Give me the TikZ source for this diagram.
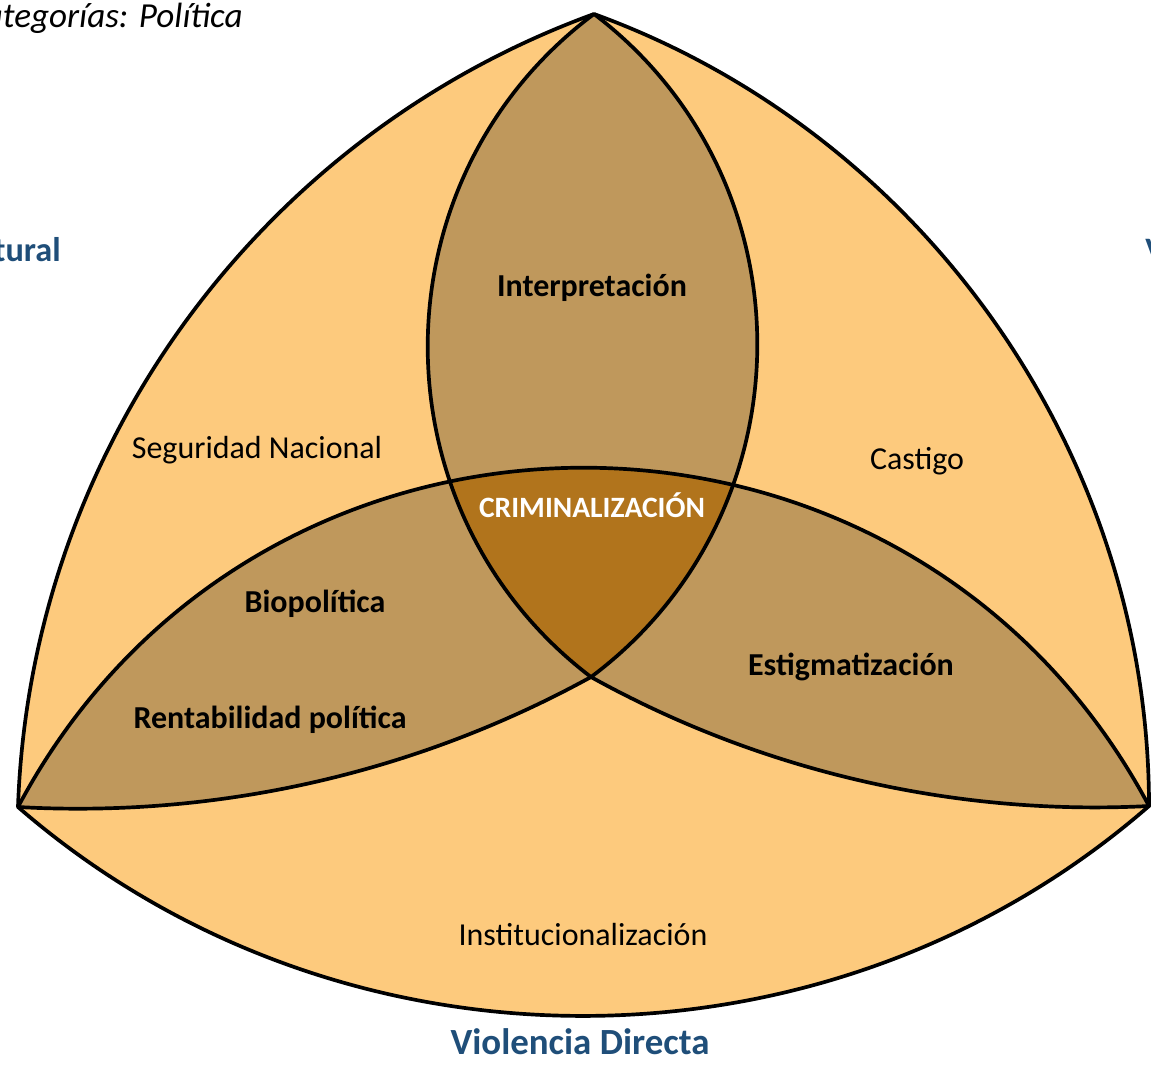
\documentclass[tikz,border=0pt]{standalone}
\usepackage{fontspec}
\setmainfont{Carlito}
\usetikzlibrary{positioning}
\definecolor{outerfill}{HTML}{FDCA7D}
\definecolor{lensfill}{HTML}{BF985C}
\definecolor{corefill}{HTML}{B1741C}
\definecolor{navy}{HTML}{1F4E79}

\begin{document}
\begin{tikzpicture}[x=0.02cm, y=0.02cm, line join=round,
  edge/.style={line width=2.1pt, black},
  lbl/.style={inner sep=0pt, font=\fontsize{18.2}{22}\selectfont},
  blbl/.style={inner sep=0pt, font=\fontsize{18.2}{22}\selectfont\bfseries},
  kind/.style={inner sep=0pt, text=navy, font=\fontsize{21}{25}\selectfont\bfseries},
  outl/.style={bend right=34, looseness=0.93},
  outb/.style={bend right=41, looseness=0.965},
  outr/.style={bend right=35, looseness=0.93},
  lensl/.style={bend right=53, looseness=1.06},
  upper/.style={bend left=62, looseness=1.16},
  lower/.style={bend left=16, looseness=0.87}
]
  \useasboundingbox (0,0) rectangle (1151,-1064);
  \clip (0,0) rectangle (1151,-1064);

  \coordinate (T) at (594,-14);
  \coordinate (L) at (18,-807);
  \coordinate (R) at (1149,-806);
  \coordinate (C) at (591,-677);

  % fills
  \fill[outerfill] (T) to[outl] (L) to[outb] (R) to[outr] (T) -- cycle;
  \fill[lensfill] (L) to[upper] (R) to[lower] (C) to[lower] (L) -- cycle;
  \fill[lensfill] (T) to[lensl] (C) to[lensl] (T) -- cycle;
  \begin{scope}
    \clip (T) to[lensl] (C) to[lensl] (T) -- cycle;
    \fill[corefill] (L) to[upper] (R) to[lower] (C) to[lower] (L) -- cycle;
  \end{scope}

  % outlines
  \draw[edge] (T) to[outl] (L) to[outb] (R) to[outr] (T) -- cycle;
  \draw[edge] (T) to[lensl] (C) to[lensl] (T);
  \draw[edge] (L) to[upper] (R) to[lower] (C) to[lower] (L);

  % labels
  \node[blbl] (interp) at (592,-288) {Interpretación};
  \node[lbl] (segur) at (257,-450) {Seguridad Nacional};
  \node[lbl] (cast) at (917,-461) {Castigo};
  \node[blbl, text=white, font=\fontsize{16.8}{20}\selectfont\bfseries] (crim) at (592,-505) {CRIMINALIZACIÓN};
  \node[blbl] (bio) at (315,-604) {Biopolítica};
  \node[blbl] (estig) at (851,-667) {Estigmatización};
  \node[blbl] (rent) at (270,-720) {Rentabilidad política};
  \node[lbl] (inst) at (583,-935) {Institucionalización};
  \node[kind] (vdir) at (580,-1042) {Violencia Directa};
  \node[kind, font=\fontsize{19.5}{23}\selectfont\bfseries, anchor=base east] (vest) at (61,-261) {Violencia Estructural};
  \node[kind, font=\fontsize{19.5}{23}\selectfont\bfseries, anchor=base west] (vcul) at (1145,-261) {Violencia Cultural};
  \node[inner sep=0pt, anchor=base east, font=\fontsize{20}{24}\selectfont\itshape] (cat) at (243,-28) {Categorías: Política};
\end{tikzpicture}
\end{document}
